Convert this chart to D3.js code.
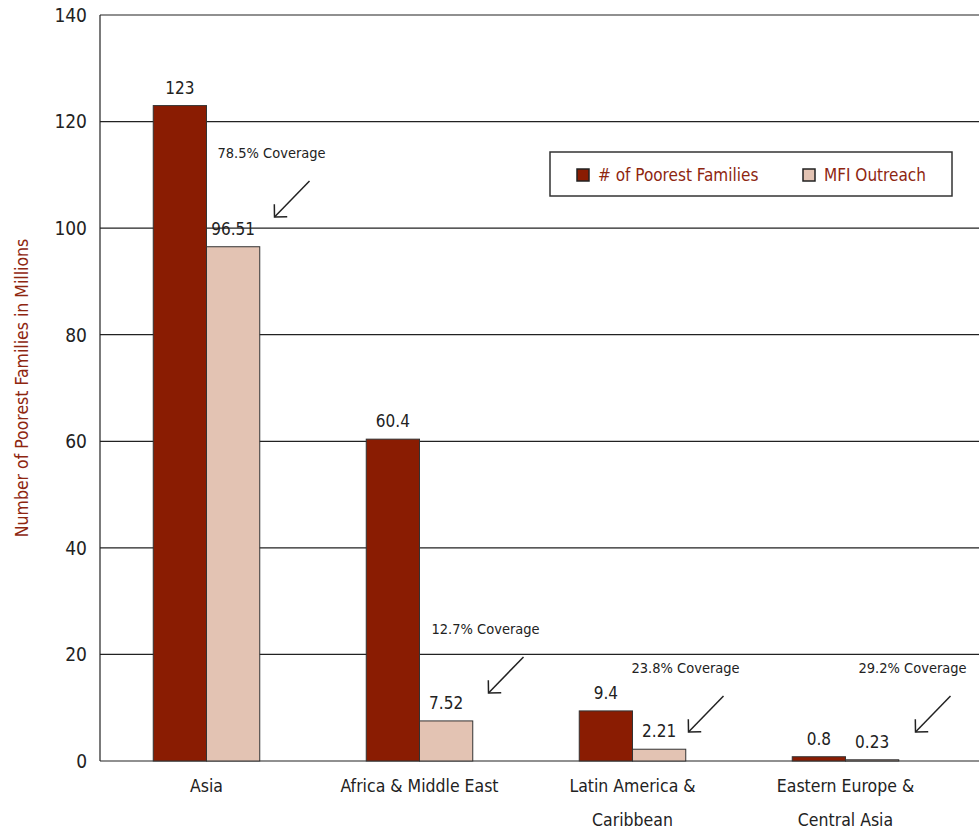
<!DOCTYPE html>
<html>
<head>
<meta charset="utf-8">
<script src="https://cdn.jsdelivr.net/npm/d3@7"></script>
<style>
  body { margin: 0; background: #fff; }
  text { font-family: "DejaVu Sans Condensed", "DejaVu Sans", sans-serif; font-stretch: condensed; }
</style>
</head>
<body>
<div id="chart"></div>
<script>
const regions = [["Asia"], ["Africa & Middle East"], ["Latin America  &", "Caribbean"], ["Eastern Europe &", "Central Asia"]];
const poorest = [123, 60.4, 9.4, 0.8];
const outreach = [96.51, 7.52, 2.21, 0.23];
const poorestLabels = ["123", "60.4", "9.4", "0.8"];
const outreachLabels = ["96.51", "7.52", "2.21", "0.23"];
const coverage = ["78.5% Coverage", "12.7% Coverage", "23.8% Coverage", "29.2% Coverage"];
const yTicks = [0, 20, 40, 60, 80, 100, 120, 140];
const seriesNames = ["# of Poorest Families", "MFI Outreach"];

var DARK = "#8a1c02";
var LIGHT = "#e3c3b3";
var RED_TEXT = "#8e2610";

var W = 979, H = 834;
var margin = {top: 15, left: 100, bottom: 73};

var svg = d3.select("#chart").append("svg")
  .attr("width", W).attr("height", H);

var x = d3.scaleBand()
  .domain(d3.range(regions.length))
  .range([margin.left, 952])
  .paddingInner(0.5).paddingOuter(0.25);

var y = d3.scaleLinear()
  .domain([0, 140])
  .range([H - margin.bottom, margin.top]);

// grid lines
svg.append("g").selectAll("line")
  .data(yTicks)
  .enter().append("line")
  .attr("x1", margin.left).attr("x2", W)
  .attr("y1", d => y(d)).attr("y2", d => y(d))
  .attr("stroke", "#222").attr("stroke-width", 1.2);

// y axis line
svg.append("line")
  .attr("x1", margin.left).attr("x2", margin.left)
  .attr("y1", y(140)).attr("y2", y(0))
  .attr("stroke", "#222").attr("stroke-width", 1.2);

svg.append("g").selectAll("text")
  .data(yTicks)
  .enter().append("text")
  .attr("x", 87).attr("y", d => y(d))
  .attr("dy", "0.36em")
  .attr("text-anchor", "end")
  .attr("font-size", 19)
  .attr("fill", "#222")
  .text(d => d);

svg.append("text")
  .attr("transform", "translate(28," + ((y(0) + y(140)) / 2) + ") rotate(-90)")
  .attr("text-anchor", "middle")
  .attr("font-size", 17.5)
  .attr("fill", RED_TEXT)
  .text("Number of Poorest Families in Millions");

var half = x.bandwidth() / 2;

// bars
var groups = svg.append("g").selectAll("g")
  .data(d3.range(regions.length))
  .enter().append("g");

groups.append("rect")
  .attr("x", i => x(i))
  .attr("y", i => y(poorest[i]))
  .attr("width", half)
  .attr("height", i => y(0) - y(poorest[i]))
  .attr("fill", DARK).attr("stroke", "#333").attr("stroke-width", 1);

groups.append("rect")
  .attr("x", i => x(i) + half)
  .attr("y", i => y(outreach[i]))
  .attr("width", half)
  .attr("height", i => y(0) - y(outreach[i]))
  .attr("fill", LIGHT).attr("stroke", "#333").attr("stroke-width", 1);

groups.append("text")
  .attr("x", i => x(i) + half / 2)
  .attr("y", i => y(poorest[i]) - 12)
  .attr("text-anchor", "middle")
  .attr("font-size", 17).attr("fill", "#222")
  .text(i => poorestLabels[i]);

groups.append("text")
  .attr("x", i => x(i) + half * 1.5)
  .attr("y", i => y(outreach[i]) - 12)
  .attr("text-anchor", "middle")
  .attr("font-size", 17).attr("fill", "#222")
  .text(i => outreachLabels[i]);

// category labels
groups.append("text")
  .attr("text-anchor", "middle")
  .attr("font-size", 17.5).attr("fill", "#222")
  .selectAll("tspan")
  .data(i => regions[i].map(t => ({t: t, i: i})))
  .enter().append("tspan")
  .attr("x", d => x(d.i) + half)
  .attr("y", (d, k) => y(0) + 31 + k * 34)
  .text(d => d.t);

// coverage notes with arrows
svg.append("defs").append("marker")
  .attr("id", "arrow")
  .attr("viewBox", "-1 -10 12 20")
  .attr("refX", 9).attr("refY", 0)
  .attr("markerWidth", 12).attr("markerHeight", 20)
  .attr("markerUnits", "userSpaceOnUse")
  .attr("orient", "auto")
  .append("path")
  .attr("d", "M0,-9L9,0L0,9")
  .attr("fill", "none").attr("stroke", "#222").attr("stroke-width", 1.5);

// note offsets relative to the outreach bar
var noteDx = [11, 12, -1, 13];
var noteY = [158, 634, 673, 673];

groups.append("text")
  .attr("x", i => x(i) + half + noteDx[i])
  .attr("y", i => noteY[i])
  .attr("font-size", 14.5).attr("fill", "#222")
  .text(i => coverage[i]);

groups.append("line")
  .attr("x1", i => x(i) + half + noteDx[i] + 92)
  .attr("y1", i => noteY[i] + 23)
  .attr("x2", i => x(i) + half + noteDx[i] + 57)
  .attr("y2", i => noteY[i] + 59)
  .attr("stroke", "#222").attr("stroke-width", 1.5)
  .attr("marker-end", "url(#arrow)");

// legend
var legend = svg.append("g").attr("transform", "translate(550,152)");
legend.append("rect")
  .attr("width", 402).attr("height", 44)
  .attr("fill", "#fff").attr("stroke", "#333").attr("stroke-width", 1.5);

var items = legend.selectAll("g.item")
  .data(seriesNames)
  .enter().append("g")
  .attr("transform", (d, k) => "translate(" + (k === 0 ? 27 : 253) + ",0)");

items.append("rect")
  .attr("y", 17).attr("width", 12).attr("height", 12)
  .attr("fill", (d, k) => k === 0 ? DARK : LIGHT)
  .attr("stroke", "#222").attr("stroke-width", 1.5);

items.append("text")
  .attr("x", 21).attr("y", 23).attr("dy", "0.36em")
  .attr("font-size", 17).attr("fill", RED_TEXT)
  .text(d => d);
</script>
</body>
</html>
